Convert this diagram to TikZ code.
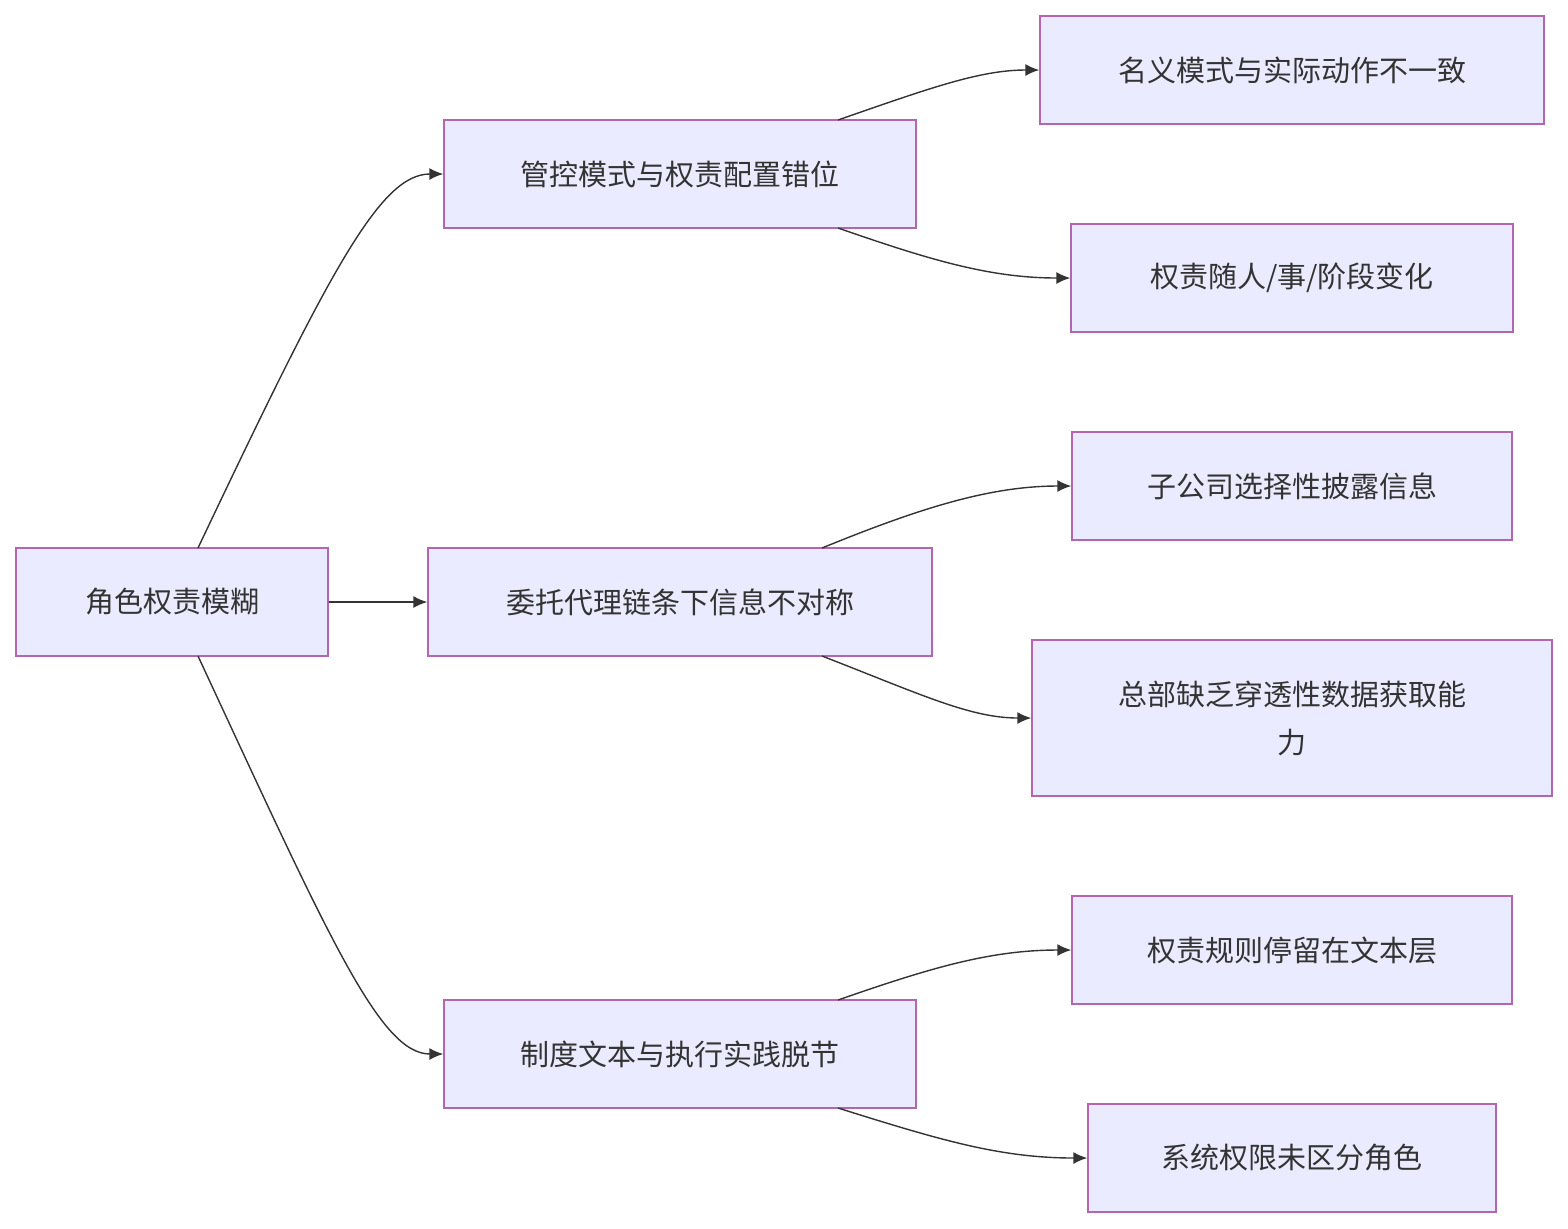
\documentclass[tikz,border=0pt]{standalone}
\usepackage{fontspec}
\setmainfont{Noto Sans CJK SC}
\usetikzlibrary{arrows.meta}
\begin{document}
\begin{tikzpicture}[x=0.5pt,y=-0.5pt,
box/.style={draw=violet!60!white,line width=0.7pt,fill=blue!8,text=black!80,font=\fontsize{14.5pt}{24pt}\selectfont,minimum height=54pt,inner sep=0pt,align=center},
edge/.style={draw=black!80,line width=0.7pt,-{Latex[length=7pt,width=6pt]}}]
\useasboundingbox (0,0) rectangle (1568,1228);
\node[box,minimum width=156pt] (r) at (172,602) {角色权责模糊};
\node[box,minimum width=236pt] (a) at (680,174) {管控模式与权责配置错位};
\node[box,minimum width=252pt] (b) at (680,602) {委托代理链条下信息不对称};
\node[box,minimum width=236pt] (c) at (680,1054) {制度文本与执行实践脱节};
\node[box,minimum width=252pt] (a1) at (1292,70) {名义模式与实际动作不一致};
\node[box,minimum width=221pt] (a2) at (1292,278) {权责随人/事/阶段变化};
\node[box,minimum width=220pt] (b1) at (1292,486) {子公司选择性披露信息};
\node[box,minimum width=260pt,minimum height=78pt] (b2) at (1292,718) {总部缺乏穿透性数据获取能\\力};
\node[box,minimum width=220pt] (c1) at (1292,950) {权责规则停留在文本层};
\node[box,minimum width=204pt] (c2) at (1292,1158) {系统权限未区分角色};
\coordinate (rt) at (198,548);
\coordinate (rb) at (198,656);
\draw[edge] (rt) .. controls (330,270) and (380,174) .. (a.west);
\draw[edge] (rb) .. controls (330,940) and (380,1054) .. (c.west);
\draw[edge] (r.east) -- (b.west);
\coordinate (at) at (838,120); \coordinate (ab) at (838,228);
\coordinate (bt) at (822,548); \coordinate (bb) at (822,656);
\coordinate (ct) at (838,1000); \coordinate (cb) at (838,1108);
\draw[edge] (at) .. controls (930,88) and (980,70) .. (a1.west);
\draw[edge] (ab) .. controls (930,260) and (990,278) .. (a2.west);
\draw[edge] (bt) .. controls (920,508) and (990,486) .. (b1.west);
\draw[edge] (bb) .. controls (920,694) and (970,718) .. (b2.west);
\draw[edge] (ct) .. controls (930,968) and (990,950) .. (c1.west);
\draw[edge] (cb) .. controls (940,1140) and (1000,1158) .. (c2.west);
\end{tikzpicture}
\end{document}
